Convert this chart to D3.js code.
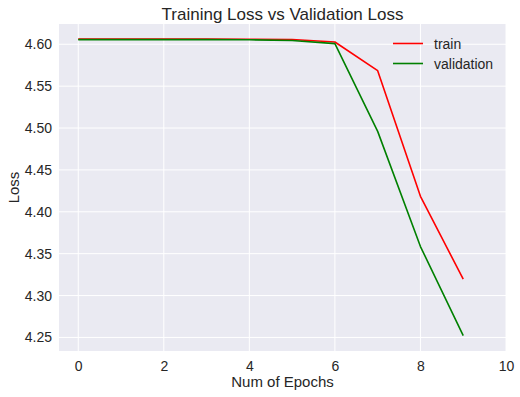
<!DOCTYPE html>
<html><head><meta charset="utf-8">
<script src="https://cdn.jsdelivr.net/npm/d3@7"></script>
<style>body{margin:0;background:#fff;} svg{display:block;font-family:"Liberation Sans",Arial,sans-serif;}</style>
</head><body><svg id="c" width="520" height="397"></svg>
<script>
const epochs = [0,1,2,3,4,5,6,7,8,9];
const trainLoss = [4.6062,4.6062,4.6062,4.6061,4.6060,4.6057,4.6027,4.5685,4.4185,4.3195];
const valLoss   = [4.6055,4.6055,4.6055,4.6055,4.6054,4.6045,4.6008,4.4960,4.3585,4.2522];
const xTicks = [0,2,4,6,8,10];
const yTicks = [4.25,4.30,4.35,4.40,4.45,4.50,4.55,4.60];
const seriesNames = ["train","validation"];
const seriesColors = ["#ff0000","#008000"];

const svg = d3.select("#c");
const L=59, R=506, T=24, B=351;
const x = d3.scaleLinear().domain([-0.45,10]).range([L,R]);
const y = d3.scaleLinear().domain([4.2338,4.6242]).range([B,T]);

svg.append("rect").attr("x",L).attr("y",T).attr("width",R-L).attr("height",B-T).attr("fill","#EAEAF2");

// grid
svg.append("g").selectAll("line").data(xTicks).join("line")
  .attr("x1",d=>x(d)).attr("x2",d=>x(d)).attr("y1",T).attr("y2",B)
  .attr("stroke","#fff").attr("stroke-width",1);
svg.append("g").selectAll("line").data(yTicks).join("line")
  .attr("x1",L).attr("x2",R).attr("y1",d=>y(d)).attr("y2",d=>y(d))
  .attr("stroke","#fff").attr("stroke-width",1);

// axes
const xAxis = d3.axisBottom(x).tickValues(xTicks).tickSize(0).tickPadding(10).tickFormat(d3.format("d"));
const gx = svg.append("g").attr("transform",`translate(0,${B})`).call(xAxis);
gx.select(".domain").remove();
gx.selectAll("text").attr("font-size",14).attr("fill","#262626").attr("font-family","Liberation Sans, Arial, sans-serif");

const yAxis = d3.axisLeft(y).tickValues(yTicks).tickSize(0).tickPadding(7).tickFormat(d3.format(".2f"));
const gy = svg.append("g").attr("transform",`translate(${L},0)`).call(yAxis);
gy.select(".domain").remove();
gy.selectAll("text").attr("font-size",14).attr("fill","#262626").attr("font-family","Liberation Sans, Arial, sans-serif");

// lines
const line = d3.line().x((d,i)=>x(epochs[i])).y(d=>y(d));
[trainLoss,valLoss].forEach((s,k)=>{
  svg.append("path").datum(s).attr("d",line).attr("fill","none")
    .attr("stroke",seriesColors[k]).attr("stroke-width",1.6).attr("stroke-linejoin","round");
});

// title & labels
svg.append("text").attr("x",(L+R)/2).attr("y",20).attr("text-anchor","middle")
  .attr("font-size",17).attr("fill","#262626").text("Training Loss vs Validation Loss");
svg.append("text").attr("x",(L+R)/2).attr("y",387).attr("text-anchor","middle")
  .attr("font-size",15).attr("fill","#262626").text("Num of Epochs");
svg.append("text").attr("transform",`translate(19,${(T+B)/2}) rotate(-90)`).attr("text-anchor","middle")
  .attr("font-size",15).attr("fill","#262626").text("Loss");

// legend
const lg = svg.append("g");
seriesNames.forEach((n,i)=>{
  const yy = 43.5 + i*20;
  lg.append("line").attr("x1",393).attr("x2",423).attr("y1",yy).attr("y2",yy)
    .attr("stroke",seriesColors[i]).attr("stroke-width",1.6);
  lg.append("text").attr("x",434).attr("y",yy+5).attr("font-size",14).attr("fill","#262626").text(n);
});
</script></body></html>
